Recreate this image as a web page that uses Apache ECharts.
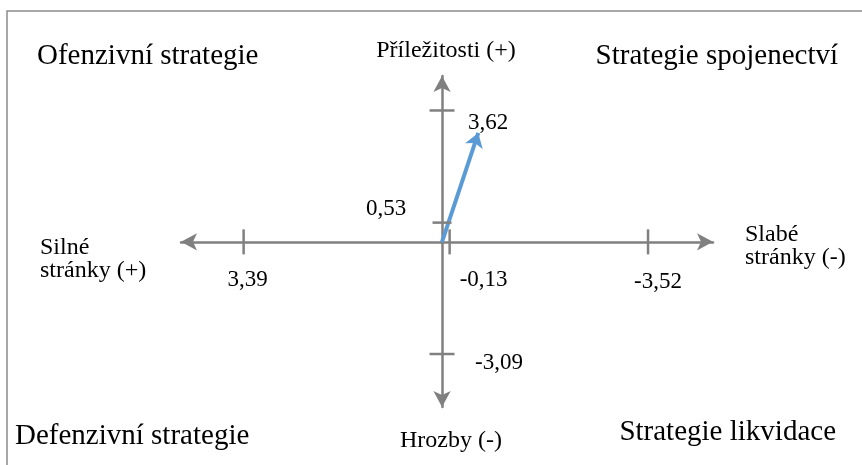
<!DOCTYPE html>
<html>
<head>
<meta charset="utf-8">
<script src="https://cdn.jsdelivr.net/npm/echarts@6/dist/echarts.min.js"></script>
<style>html,body{margin:0;padding:0;background:#fff;}#c{width:862px;height:465px;}</style>
</head>
<body>
<div id="c"></div>
<script>
// Data
const xTickValues = [3.39, -0.13, -3.52];       // S (+), S+W, W (-)
const xTickLabels = ['3,39', '-0,13', '-3,52'];
const yTickValues = [3.62, 0.53, -3.09];        // O (+), O+T, T (-)
const yTickLabels = ['3,62', '0,53', '-3,09'];
const arrowEnd = [-0.62, 3.0];
const quadrantLabels = ['Ofenzivní strategie', 'Strategie spojenectví', 'Defenzivní strategie', 'Strategie likvidace'];
const axisNames = ['Silné\nstránky (+)', 'Slabé\nstránky (-)', 'Příležitosti (+)', 'Hrozby (-)'];

const FONT = "'Liberation Serif', 'Times New Roman', serif";
const GRAY = '#808080';
const chart = echarts.init(document.getElementById('c'));

const xOffsets = [[4, 38], [34, 38], [10, 40]];
const yOffsets = [[46, 12], [-56, -14], [57, 9]];

const labelStyle = { show: true, position: 'inside', color: '#000', opacity: 1, fontFamily: FONT, fontSize: 23, textBorderWidth: 0, textShadowBlur: 0 };

const xTickData = xTickValues.map((v, i) => ({
  value: [v, 0],
  label: { formatter: xTickLabels[i], offset: xOffsets[i] }
}));
const yTickData = yTickValues.map((v, i) => ({
  value: [0, v],
  symbolSize: i === 1 ? [19, 2.5] : [25, 2.5],
  label: { formatter: yTickLabels[i], offset: yOffsets[i] }
}));

function txt(text, x, y, align, size) {
  return {
    type: 'text', x: x, y: y, silent: true,
    style: { text: text, fill: '#000', font: size + 'px ' + FONT, textAlign: align, textVerticalAlign: 'middle', lineHeight: Math.round(size * 0.95) }
  };
}

const option = {
  backgroundColor: '#fff',
  animation: false,
  grid: { left: 181, right: 149, top: 76, bottom: 58 },
  xAxis: {
    type: 'value', inverse: true, min: -4.63, max: 4.46,
    axisLine: { onZero: true, symbol: ['arrow', 'arrow'], symbolSize: [13, 16], lineStyle: { color: GRAY, width: 2.5 } },
    axisTick: { show: false }, axisLabel: { show: false }, splitLine: { show: false }
  },
  yAxis: {
    type: 'value', min: -4.55, max: 4.57,
    axisLine: { onZero: true, symbol: ['arrow', 'arrow'], symbolSize: [13, 16], lineStyle: { color: GRAY, width: 2.5 } },
    axisTick: { show: false }, axisLabel: { show: false }, splitLine: { show: false }
  },
  series: [
    {
      type: 'scatter', data: xTickData, symbol: 'rect', symbolSize: [2.5, 25],
      itemStyle: { color: GRAY, opacity: 1 }, silent: true, label: labelStyle
    },
    {
      type: 'scatter', data: yTickData, symbol: 'rect',
      itemStyle: { color: GRAY, opacity: 1 }, silent: true, label: labelStyle
    },
    {
      type: 'lines', coordinateSystem: 'cartesian2d', silent: true,
      symbol: ['none', 'arrow'], symbolSize: 14,
      lineStyle: { color: '#5b9bd5', width: 4, opacity: 1 },
      data: [{ coords: [[0, 0], arrowEnd] }]
    }
  ],
  graphic: [
    { type: 'polyline', silent: true, shape: { points: [[7, 470], [7, 11], [870, 11]] }, style: { stroke: '#8c8c8c', lineWidth: 1.5, fill: null } },
    txt(quadrantLabels[0], 37, 56, 'left', 29),
    txt(quadrantLabels[1], 838, 56, 'right', 29),
    txt(quadrantLabels[2], 15, 436, 'left', 29),
    txt(quadrantLabels[3], 836, 432, 'right', 29),
    txt(axisNames[0], 40, 259, 'left', 24),
    txt(axisNames[1], 745, 246, 'left', 24),
    txt(axisNames[2], 446, 51, 'center', 24),
    txt(axisNames[3], 451, 441, 'center', 24)
  ]
};
chart.setOption(option);
</script>
</body>
</html>
